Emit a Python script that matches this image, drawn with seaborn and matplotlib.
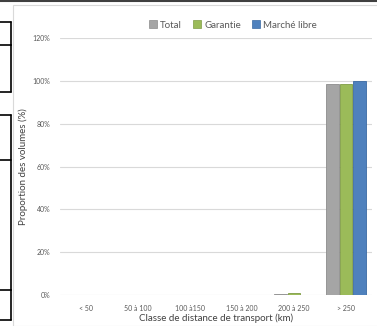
import pandas as pd
import matplotlib.pyplot as plt
import matplotlib.patches as mpatches
from matplotlib.lines import Line2D
import seaborn as sns
from matplotlib.ticker import PercentFormatter

# Data
classes = ['< 50', '50 à 100', '100 à150', '150 à 200', '200 à 250', '> 250']
total = [0.0, 0.0, 0.0, 0.0, 0.4, 98.6]
garantie = [0.0, 0.0, 0.0, 0.0, 0.9, 98.6]
marche_libre = [0.0, 0.0, 0.0, 0.0, 0.0, 100.0]
series = ['Total', 'Garantie', 'Marché libre']
colors = ['#A5A5A5', '#9BBB59', '#4F81BD']
edges = ['#8C8C8C', '#7F9C45', '#3A6AA3']

df = pd.DataFrame({
    'classe': classes * 3,
    'serie': [s for s in series for _ in classes],
    'valeur': total + garantie + marche_libre,
})

sns.set_theme(style="white")
plt.rcParams['font.family'] = ['Lato', 'DejaVu Sans']

fig = plt.figure(figsize=(3.77, 3.26), dpi=100)
ax = fig.add_axes([60 / 377, 1 - 295 / 326, 312 / 377, 257 / 326])

sns.barplot(data=df, x='classe', y='valeur', hue='serie', order=classes,
            hue_order=series, palette=colors, width=0.8, gap=0.08,
            ax=ax, legend=False, saturation=1)

for cont, ec in zip(ax.containers, edges):
    for bar in cont:
        bar.set_edgecolor(ec)
        bar.set_linewidth(0.6)

ax.set_ylim(0, 120)
ax.set_xlim(-0.5, 5.5)
ax.set_yticks(range(0, 121, 20))
ax.yaxis.set_major_formatter(PercentFormatter(decimals=0))
ax.grid(axis='y', color='#D9D9D9', linewidth=0.8)
ax.set_axisbelow(True)
for s in ax.spines.values():
    s.set_visible(False)
ax.tick_params(axis='both', length=0, labelsize=5, colors='#595959', pad=7)
ax.tick_params(axis='y', pad=7)

ax.set_xlabel('Classe de distance de transport (km)', fontsize=7, color='#404040', labelpad=1.5)
ax.set_ylabel('Proportion des volumes (%)', fontsize=7, color='#404040', labelpad=3)

handles = [mpatches.Patch(facecolor=c, edgecolor=e, linewidth=0.5, label=s)
           for s, c, e in zip(series, colors, edges)]
fig.legend(handles=handles, loc='center', bbox_to_anchor=(233 / 377, 1 - 25 / 326),
           ncol=3, frameon=False, fontsize=7, handlelength=0.8, handleheight=0.8,
           handletextpad=0.3, columnspacing=1.2, labelcolor='#595959')

# chart frame and surrounding page artefacts
fig.patches.append(mpatches.Rectangle((13 / 377, 0), 1, 1 - 5 / 326, transform=fig.transFigure,
                                      fill=False, edgecolor='#D9D9D9', linewidth=0.8))
fig.lines.append(Line2D([0, 1], [1 - 0.5 / 326, 1 - 0.5 / 326], transform=fig.transFigure,
                        color='#404040', linewidth=1.5))
for y in [22, 45, 92, 115, 160, 290, 320]:
    fig.lines.append(Line2D([0, 11 / 377], [1 - y / 326, 1 - y / 326], transform=fig.transFigure,
                            color='black', linewidth=1.2))
for y0, y1 in [(22, 45), (45, 92), (115, 290), (290, 320)]:
    fig.lines.append(Line2D([11 / 377, 11 / 377], [1 - y0 / 326, 1 - y1 / 326], transform=fig.transFigure,
                            color='black', linewidth=1.2))

fig.savefig('out.png', dpi=100)
